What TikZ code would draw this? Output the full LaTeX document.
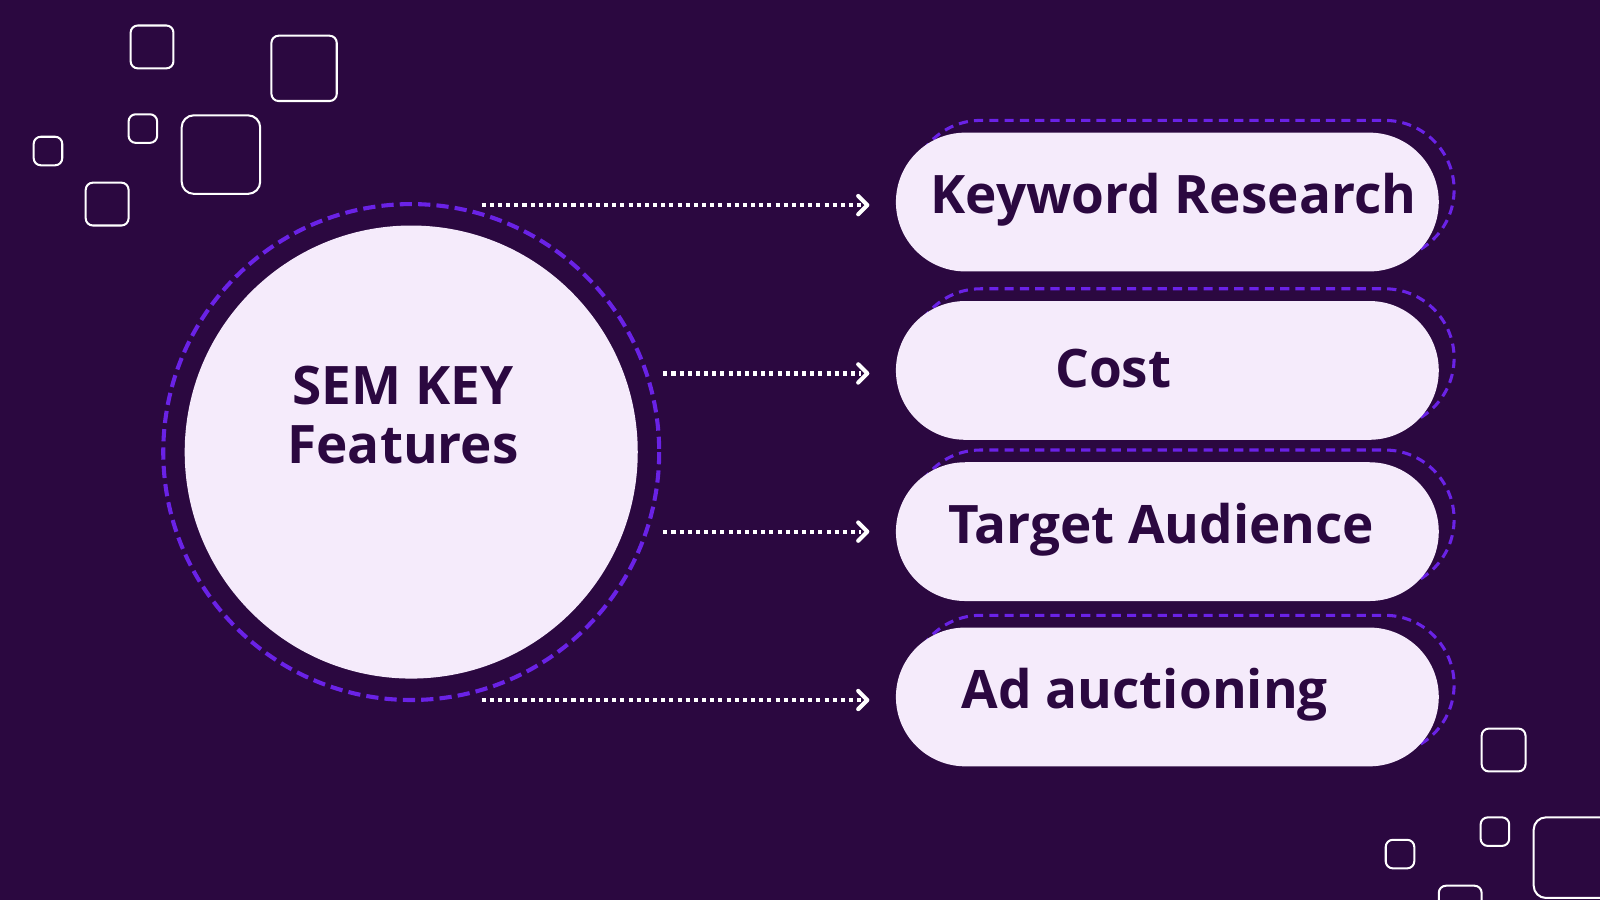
\documentclass[tikz,border=0pt]{standalone}
\usepackage{fontspec}
\setmainfont{Open Sans}
\definecolor{bg}{HTML}{2B0840}
\definecolor{pale}{HTML}{F5EBFB}
\definecolor{vio}{HTML}{6A22E6}
\tikzset{
  sq/.style={draw=white, line width=2pt, rounded corners=7pt},
  pill/.style={fill=pale, rounded corners=68pt},
  dpill/.style={draw=vio, line width=3pt, dashed, dash pattern=on 9pt off 6pt, rounded corners=68pt},
  lbl/.style={text=bg, font=\fontsize{52}{60}\selectfont\bfseries},
  arr/.style={draw=white, line width=4pt, dash pattern=on 4pt off 4pt},
  tip/.style={draw=white, line width=4pt, line cap=round, line join=round}
}
\begin{document}
\begin{tikzpicture}[x=1pt,y=-1pt]
\fill[bg] (0,0) rectangle (1568,882);
\useasboundingbox (0,0) rectangle (1568,882);
% squares
\draw[sq] (128,25) rectangle (170,67);
\draw[sq] (266,35) rectangle (330,99);
\draw[sq] (126,112) rectangle (154,140);
\draw[sq,rounded corners=12pt] (178,113) rectangle (255,190);
\draw[sq] (33,134) rectangle (61,162);
\draw[sq] (84,179) rectangle (126,221);
\draw[sq] (1452,714) rectangle (1495,756);
\draw[sq] (1451,801) rectangle (1479,829);
\draw[sq] (1358,823) rectangle (1386,851);
\draw[sq,rounded corners=12pt] (1503,801) rectangle (1590,880);
\draw[sq] (1410,868) rectangle (1452,910);
% circle
\draw[vio, line width=4pt, dash pattern=on 12pt off 6pt] (403,443) circle (243);
\node[circle, fill=pale, minimum size=444pt, inner sep=0pt] (hub) at (403,443) {};
\node[lbl, align=center] (hubt) at (395,407) {SEM KEY\\[-2pt]Features};
% pills
\foreach \i/\yt/\txt/\tx in {1/130/Keyword Research/1150, 2/295/Cost/1091, 3/453/Target Audience/1138, 4/615/Ad auctioning/1122}{
  \draw[dpill] (893,\yt-12) rectangle (1425,\yt+124);
  \fill[pill] (878,\yt) rectangle (1410,\yt+136);
  \coordinate (p\i) at (865,\yt+68);
  \node[lbl] (t\i) at (\tx,\yt+66) {\txt};
}
% arrows
\coordinate (s1) at (472,201); \coordinate (e1) at (850,201);
\coordinate (s2) at (650,366); \coordinate (e2) at (850,366);
\coordinate (s3) at (650,521); \coordinate (e3) at (850,521);
\coordinate (s4) at (472,686); \coordinate (e4) at (850,686);
\foreach \i in {1,2,3,4}{
  \draw[arr] (s\i) -- ([xshift=-6pt]e\i);
  \draw[tip] ([xshift=-9pt,yshift=-9pt]e\i) -- (e\i) -- ([xshift=-9pt,yshift=9pt]e\i);
}
\end{tikzpicture}
\end{document}
